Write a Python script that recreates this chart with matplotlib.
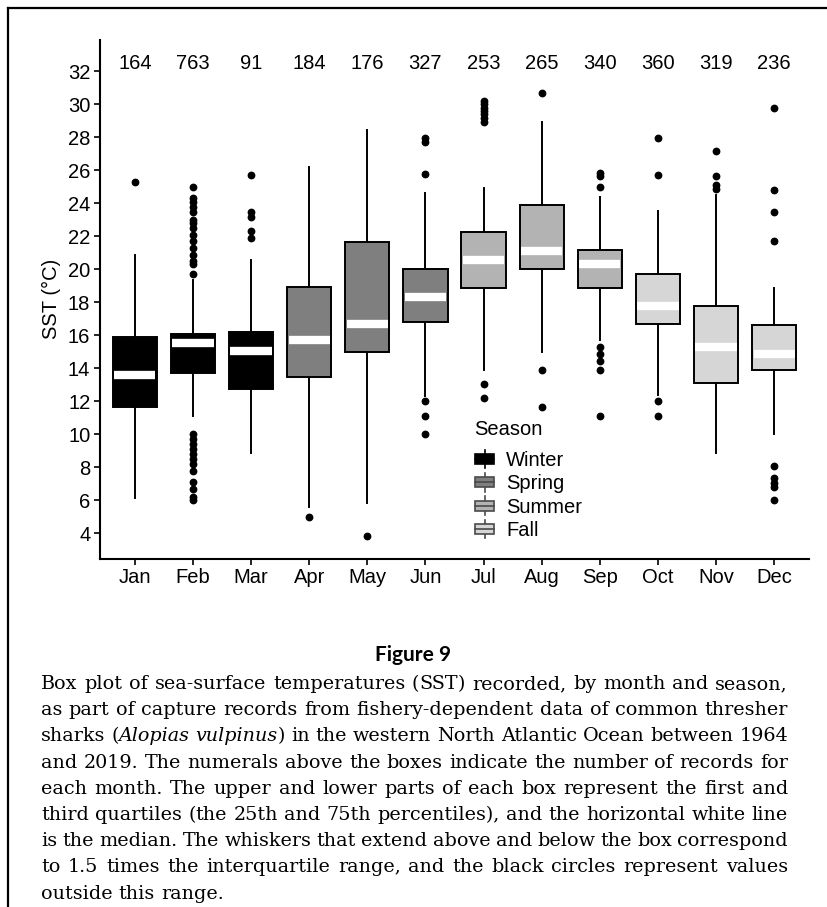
import numpy as np
import matplotlib
matplotlib.use("Agg")
from matplotlib import pyplot as plt
from matplotlib.patches import Patch, Rectangle
from matplotlib.lines import Line2D
from matplotlib.legend_handler import HandlerBase

# values
months = ["Jan", "Feb", "Mar", "Apr", "May", "Jun",
          "Jul", "Aug", "Sep", "Oct", "Nov", "Dec"]
counts = [164, 763, 91, 184, 176, 327, 253, 265, 340, 360, 319, 236]
season = ["Winter", "Winter", "Winter", "Spring", "Spring", "Spring",
          "Summer", "Summer", "Summer", "Fall", "Fall", "Fall"]
q1 = [11.65, 13.7, 12.75, 13.45, 15.0, 16.8, 18.9, 20.0, 18.9, 16.7, 13.1, 13.9]
med = [13.6, 15.55, 15.05, 15.7, 16.7, 18.35, 20.55, 21.1, 20.3, 17.8, 15.3, 14.9]
q3 = [15.9, 16.1, 16.2, 18.95, 21.65, 20.0, 22.25, 23.9, 21.15, 19.7, 17.8, 16.6]
whislo = [6.15, 11.1, 8.9, 5.6, 5.85, 12.3, 13.9, 15.0, 15.7, 12.4, 8.9, 10.0]
whishi = [20.9, 19.35, 20.55, 26.2, 28.45, 24.65, 24.95, 28.95, 24.4, 23.55, 24.5, 18.9]
fliers = [
    [25.3],
    [25.0, 24.3, 24.1, 23.8, 23.5, 23.0, 22.8, 22.5, 22.1, 21.7, 21.3, 20.9,
     20.5, 20.3, 19.7, 10.0, 9.7, 9.4, 9.1, 8.8, 8.5, 8.2, 7.8, 7.1, 6.7, 6.2, 6.0],
    [25.7, 23.5, 23.2, 22.3, 21.9],
    [5.0],
    [3.85],
    [27.95, 27.7, 25.8, 12.0, 11.1, 10.0],
    [30.2, 30.0, 29.8, 29.6, 29.4, 29.2, 28.95, 13.05, 12.2],
    [30.7, 13.9, 11.65],
    [25.85, 25.65, 25.0, 15.3, 14.9, 14.45, 13.9, 11.1],
    [27.95, 25.7, 12.0, 11.1],
    [27.15, 25.65, 25.1, 24.9],
    [29.75, 24.8, 23.45, 21.7, 8.1, 7.35, 7.05, 6.8, 6.0],
]
season_names = ["Winter", "Spring", "Summer", "Fall"]
season_fill = {"Winter": "#000000", "Spring": "#7f7f7f",
               "Summer": "#b3b3b3", "Fall": "#d6d6d6"}

caption = [
    "Box plot of sea-surface temperatures (SST) recorded, by month and season,",
    "as part of capture records from fishery-dependent data of common thresher",
    "sharks (Alopias vulpinus) in the western North Atlantic Ocean between 1964",
    "and 2019. The numerals above the boxes indicate the number of records for",
    "each month. The upper and lower parts of each box represent the first and",
    "third quartiles (the 25th and 75th percentiles), and the horizontal white line",
    "is the median. The whiskers that extend above and below the box correspond",
    "to 1.5 times the interquartile range, and the black circles represent values",
    "outside this range.",
]
italic_words = {"Alopias", "vulpinus"}

W, H = 828, 907
FS = 14.5
plt.rcParams["font.family"] = ["Liberation Sans", "DejaVu Sans"]
fig = plt.figure(figsize=(W / 100, H / 100), dpi=100)
ax = fig.add_axes([100 / W, 1 - 558.5 / H, 709 / W, 518.5 / H])

pos = np.arange(1, len(months) + 1)
stats = []
for i in range(len(months)):
    stats.append(dict(med=med[i], q1=q1[i], q3=q3[i], whislo=whislo[i],
                      whishi=whishi[i], fliers=fliers[i], label=months[i]))

art = ax.bxp(stats, positions=pos, widths=0.76, patch_artist=True, showcaps=False,
             boxprops=dict(edgecolor="black", linewidth=1.4),
             whiskerprops=dict(color="black", linewidth=1.4),
             medianprops=dict(color="white", linewidth=6, solid_capstyle="butt"),
             flierprops=dict(marker="o", markerfacecolor="black",
                             markeredgecolor="black", markersize=4.6))
for box, s in zip(art["boxes"], season):
    box.set_facecolor(season_fill[s])
for m in art["medians"]:
    xd = m.get_xdata()
    m.set_xdata([xd[0] + 0.025, xd[1] - 0.025])

# record counts above each box
for x, n in zip(pos, counts):
    ax.text(x, 32.5, str(n), ha="center", va="center", fontsize=FS)

ax.set_xlim(0.4, 12.6)
ax.set_ylim(2.48, 33.9)
ax.set_yticks(np.arange(4, 33, 2))
ax.set_xticks(pos)
ax.set_xticklabels(months)
ax.tick_params(labelsize=FS, length=4, width=1.2, color="black", labelcolor="black",
               pad=3)
ax.set_ylabel("SST (°C)", fontsize=FS, labelpad=5)
for side in ["top", "right"]:
    ax.spines[side].set_visible(False)
for side in ["left", "bottom"]:
    ax.spines[side].set_linewidth(1.5)


class BoxKey(HandlerBase):
    def create_artists(self, legend, orig_handle, xdescent, ydescent,
                       width, height, fontsize, trans):
        x0, y0 = -xdescent, -ydescent
        fc = orig_handle.get_facecolor()
        ec = orig_handle.get_edgecolor()
        v = Line2D([x0 + width / 2] * 2, [y0 - 0.05 * height, y0 + 1.05 * height],
                   color=ec, lw=1.2, transform=trans)
        r = Rectangle((x0, y0 + 0.2 * height), width, 0.6 * height,
                      facecolor=fc, edgecolor=ec, lw=1.2, transform=trans)
        m = Line2D([x0, x0 + width], [y0 + height / 2] * 2, color=ec, lw=1.2,
                   transform=trans)
        return [v, r, m]


handles = []
for s in season_names:
    ec = "black" if s == "Winter" else "#4a4a4a"
    handles.append(Patch(facecolor=season_fill[s], edgecolor=ec, label=s))
leg = ax.legend(handles=handles, loc="upper left",
                bbox_to_anchor=(0.5295, 0.208), frameon=False, fontsize=FS,
                borderpad=0, borderaxespad=0,
                handlelength=0.92, handleheight=0.9, handletextpad=0.6,
                labelspacing=0.2, handler_map={Patch: BoxKey()})
ax.text(0.5275, 0.248, "Season", transform=ax.transAxes, fontsize=FS,
        ha="left", va="center")

# frame lines around the figure
fig.add_artist(Line2D([8 / W, 1], [1 - 8 / H, 1 - 8 / H], color="black", lw=1.6))
fig.add_artist(Line2D([8 / W, 8 / W], [0, 1 - 8 / H], color="black", lw=1.6))

fig.text(413 / W, 1 - 655 / H, "Figure 9", ha="center", va="center",
         fontsize=15, fontweight="bold", family=["Lato", "DejaVu Sans"])

# justified caption
cap_kw = dict(fontsize=13.8, family=["DejaVu Serif"], va="baseline", ha="left")
renderer = fig.canvas.get_renderer()
left, right = 41, 788
base0, lh = 689, 26.2


def runs_of(word):
    lead = word[:1] if word.startswith("(") else ""
    trail = word[-1:] if word.endswith(")") else ""
    core = word[len(lead):len(word) - len(trail)]
    style = "italic" if core in italic_words else "normal"
    out = []
    if lead:
        out.append((lead, "normal"))
    out.append((core, style))
    if trail:
        out.append((trail, "normal"))
    return out


def wpx(t):
    return t.get_window_extent(renderer).width


probe_a = fig.text(0, 0, "x x", **cap_kw)
probe_b = fig.text(0, 0, "xx", **cap_kw)
space = wpx(probe_a) - wpx(probe_b)
probe_a.remove()
probe_b.remove()

for i, line in enumerate(caption):
    y = 1 - (base0 + i * lh) / H
    words = line.split()
    arts = []
    for w in words:
        arts.append([fig.text(0, y, t, fontstyle=st, **cap_kw) for t, st in runs_of(w)])
    widths = [sum(wpx(a) for a in p) for p in arts]
    if i == len(caption) - 1:
        gap = space
    else:
        gap = (right - left - sum(widths)) / (len(words) - 1)
    x = left
    for p, wd in zip(arts, widths):
        xx = x
        for a in p:
            a.set_x(xx / W)
            xx += wpx(a)
        x += wd + gap

fig.savefig("out.png", dpi=100)
